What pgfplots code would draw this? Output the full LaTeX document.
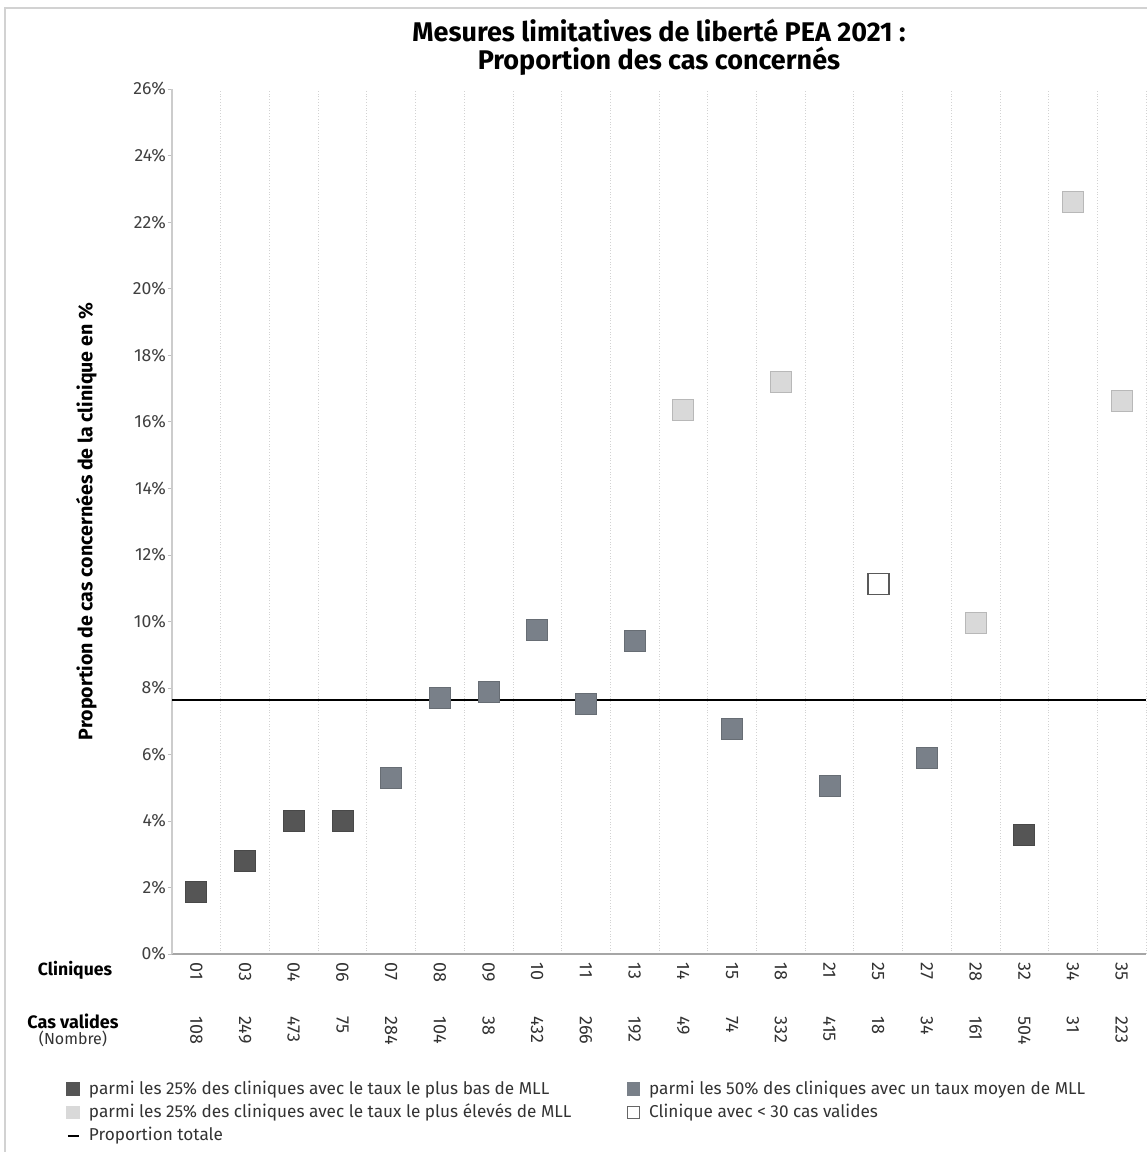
\documentclass[border=0pt]{standalone}
\usepackage{fontspec}
\setmainfont{Fira Sans}
\usepackage{pgfplots}
\pgfplotsset{compat=1.18}

\definecolor{cdark}{HTML}{555555}
\definecolor{cmid}{HTML}{798089}
\definecolor{clight}{HTML}{D9D9D9}

\begin{document}
\begin{tikzpicture}
    \path[use as bounding box, fill=white] (0,0) rectangle (573.5pt,576pt);
    \draw[gray!35, line width=0.6pt] (2.5pt,0) -- (2.5pt,572pt) -- (573.5pt,572pt);

    \begin{axis}[
        at={(86pt,99pt)}, anchor=south west,
        scale only axis, width=487pt, height=432.5pt,
        xmin=-0.5, xmax=19.5, ymin=0, ymax=26,
        axis lines=left, axis line style={-},
        x axis line style={gray!70, line width=0.8pt},
        y axis line style={gray!40, line width=0.8pt},
        /pgf/number format/assume math mode=true,
        title={Mesures limitatives de liberté PEA 2021 :\\Proportion des cas concernés},
        title style={at={(axis description cs:0.5,1)}, anchor=south, yshift=-3pt,
            font=\bfseries\fontsize{13.5}{14}\selectfont, align=center},
        ylabel={Proportion de cas concernées de la clinique en \%},
        ylabel style={at={(axis description cs:-0.088,0.5)}, anchor=center,
            font=\bfseries\fontsize{9.8}{11}\selectfont},
        xtick={0,...,19},
        xticklabels={01,03,04,06,07,08,09,10,11,13,14,15,18,21,25,27,28,32,34,35},
        xticklabel style={rotate=-90, anchor=west, font=\fontsize{9}{10}\selectfont, text=black!80},
        xticklabel shift=-1.3pt,
        x tick style={draw=none},
        extra x ticks={0,...,19},
        extra x tick labels={108,249,473,75,284,104,38,432,266,192,49,74,332,415,18,34,161,504,31,223},
        extra x tick style={xticklabel shift=25.7pt, grid=none},
        minor xtick={0.5,1.5,...,19.5},
        xminorgrids, minor x grid style={densely dotted, gray!35},
        minor tick length=0pt,
        ytick={0,2,...,26},
        yticklabel={\pgfmathprintnumber{\tick}\%},
        yticklabel style={font=\fontsize{8.8}{10}\selectfont, text=black!75, xshift=2.5pt},
        y tick style={gray!50},
        tick align=outside, major tick length=2pt,
        legend columns=2,
        legend cell align=left,
        legend style={at={(axis description cs:-0.115,-0.137)}, anchor=north west,
            draw=none, fill=none, font=\fontsize{8.6}{10}\selectfont, text=black!80,
            row sep=-0.7pt,
            /tikz/every odd column/.append style={column sep=2.5pt},
            /tikz/every even column/.append style={column sep=25.5pt}},
    ]

    % proportion totale
    \addplot[black, line width=1.2pt, forget plot] coordinates {(-0.5,7.63) (19.5,7.63)};

    \addplot[only marks, mark=square*, mark size=5.25pt,
        mark options={fill=cdark, draw=cdark!85!black, line width=0.4pt},
        legend image code/.code={\draw[fill=cdark, draw=cdark] (0pt,-3.2pt) rectangle (6.4pt,3.2pt);}]
        coordinates {(0,1.86) (1,2.80) (2,4.00) (3,4.00) (17,3.58)};
    \addlegendentry{parmi les 25\% des cliniques avec le taux le plus bas de MLL}

    \addplot[only marks, mark=square*, mark size=5.25pt,
        mark options={fill=cmid, draw=cmid!85!black, line width=0.4pt},
        legend image code/.code={\draw[fill=cmid, draw=cmid] (0pt,-3.2pt) rectangle (6.4pt,3.2pt);}]
        coordinates {(4,5.29) (5,7.69) (6,7.87) (7,9.74) (8,7.51) (9,9.41) (11,6.76) (13,5.05) (15,5.89)};
    \addlegendentry{parmi les 50\% des cliniques avec un taux moyen de MLL}

    \addplot[only marks, mark=square*, mark size=5.25pt,
        mark options={fill=clight, draw=clight!85!black, line width=0.4pt},
        legend image code/.code={\draw[fill=clight, draw=clight] (0pt,-3.2pt) rectangle (6.4pt,3.2pt);}]
        coordinates {(10,16.35) (12,17.19) (16,9.95) (18,22.60) (19,16.62)};
    \addlegendentry{parmi les 25\% des cliniques avec le taux le plus élevés de MLL}

    \addplot[only marks, mark=square*, mark size=5.25pt,
        mark options={fill=white, draw=black!65, line width=0.9pt},
        legend image code/.code={\draw[fill=white, draw=black!60, line width=0.4pt] (0pt,-3.2pt) rectangle (6.4pt,3.2pt);}]
        coordinates {(14,11.12)};
    \addlegendentry{Clinique avec < 30 cas valides}

    \addlegendimage{black, line width=1pt, legend image code/.code={\draw[black, line width=1pt] (0.5pt,0) -- (6pt,0);}}
    \addlegendentry{Proportion totale}
    \end{axis}

    \node[font=\bfseries\fontsize{8.8}{10}\selectfont] at (37.5pt,91pt) {Cliniques};
    \node[font=\bfseries\fontsize{9}{10}\selectfont] at (36.5pt,65.5pt) {Cas valides};
    \node[font=\fontsize{8}{9}\selectfont, text=black!80] at (36.5pt,56.5pt) {(Nombre)};
\end{tikzpicture}
\end{document}
